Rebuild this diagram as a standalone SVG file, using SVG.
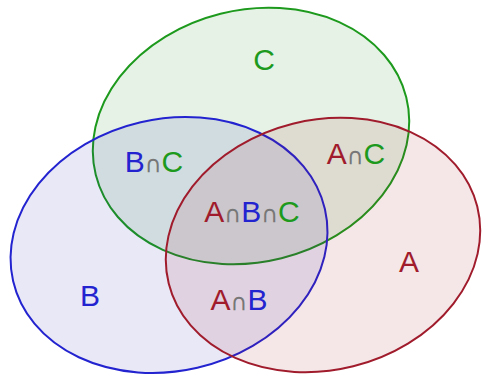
<svg xmlns="http://www.w3.org/2000/svg" width="483" height="376" viewBox="0 0 483 376">
<style>
.e{stroke-width:2}
.lbl{font-family:"Liberation Sans",Arial,sans-serif;font-size:30px;text-anchor:middle}
.r{fill:#a01c2c}.g{fill:#1d9a1d}.b{fill:#2323d0}
.n{fill:#777;font-size:23px;font-family:"DejaVu Sans",sans-serif}
</style>
<rect width="483" height="376" fill="#fff"/>
<g id="setC"><ellipse class="e" cx="251" cy="136" rx="160" ry="126" transform="rotate(-14 251 136)" fill="#178a17" fill-opacity="0.11" stroke="#1d9a1d"/></g>
<g id="setB"><ellipse class="e" cx="169" cy="245" rx="160" ry="126" transform="rotate(-13 169 245)" fill="#1a1ab0" fill-opacity="0.1" stroke="#2323d0"/></g>
<g id="setA"><ellipse class="e" cx="323" cy="245" rx="159" ry="125" transform="rotate(-14 323 245)" fill="#a01020" fill-opacity="0.1" stroke="#a01c2c"/></g>
<g id="labels">
<text class="lbl g" x="264" y="70">C</text>
<text class="lbl" x="409" y="272"><tspan class="r">A</tspan></text>
<text class="lbl" x="90" y="306"><tspan class="b">B</tspan></text>
<text class="lbl" x="154" y="172"><tspan class="b">B</tspan><tspan class="n">∩</tspan><tspan class="g">C</tspan></text>
<text class="lbl" x="356" y="164"><tspan class="r">A</tspan><tspan class="n">∩</tspan><tspan class="g">C</tspan></text>
<text class="lbl" x="252" y="222"><tspan class="r">A</tspan><tspan class="n">∩</tspan><tspan class="b">B</tspan><tspan class="n">∩</tspan><tspan class="g">C</tspan></text>
<text class="lbl" x="239" y="310"><tspan class="r">A</tspan><tspan class="n">∩</tspan><tspan class="b">B</tspan></text>
</g>
</svg>
